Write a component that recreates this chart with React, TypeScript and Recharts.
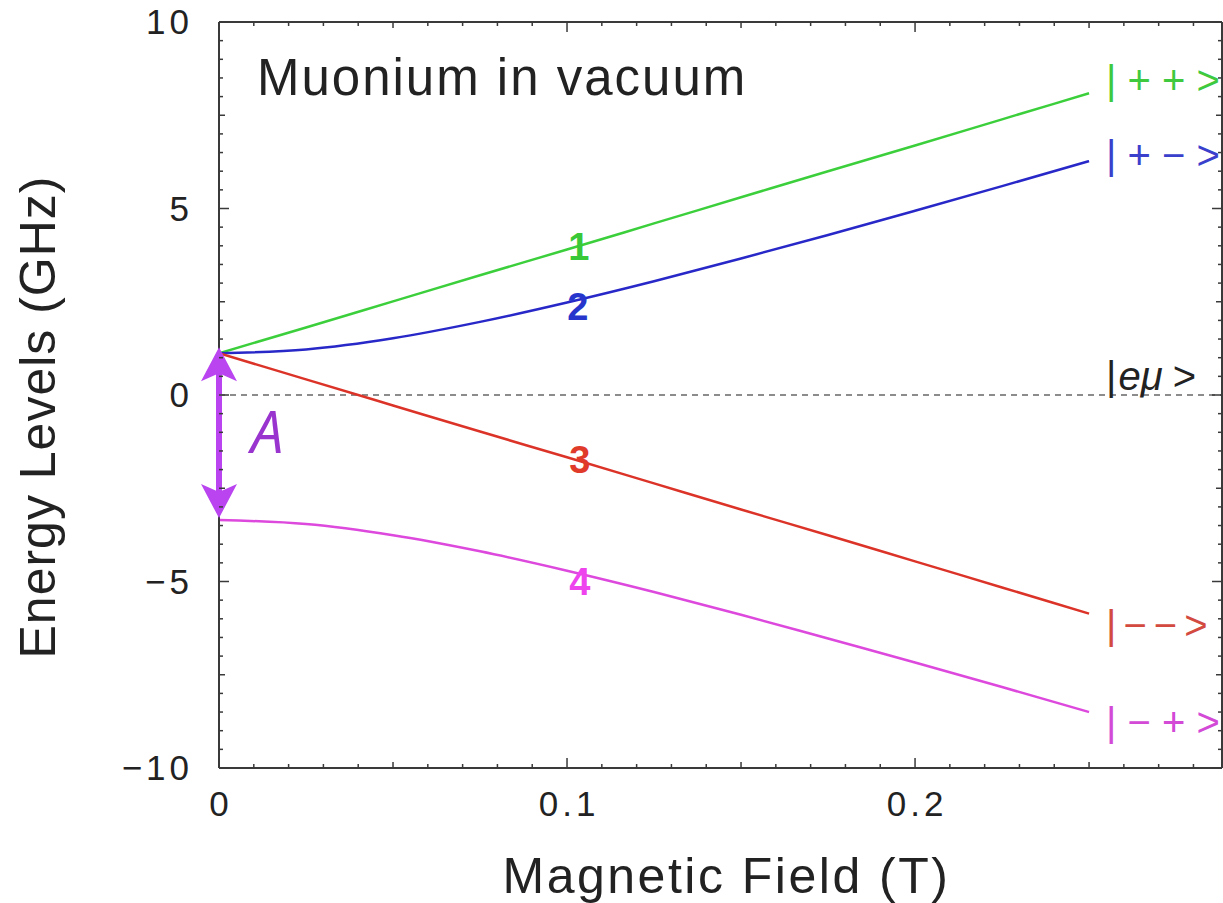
import { LineChart, Line, XAxis, YAxis, ReferenceLine, ReferenceDot } from 'recharts';

// field values (T) and the four hyperfine levels (GHz)
const fieldT = [0, 0.025, 0.05, 0.075, 0.1, 0.125, 0.15, 0.175, 0.2, 0.225, 0.25];
const level1 = [1.12, 1.81, 2.51, 3.21, 3.9, 4.6, 5.3, 6.0, 6.69, 7.39, 8.09];
const level2 = [1.12, 1.22, 1.52, 1.96, 2.48, 3.05, 3.66, 4.29, 4.94, 5.6, 6.27];
const level3 = [1.12, 0.42, -0.28, -0.98, -1.67, -2.37, -3.07, -3.76, -4.46, -5.16, -5.86];
const level4 = [-3.35, -3.46, -3.76, -4.19, -4.71, -5.28, -5.89, -6.53, -7.17, -7.83, -8.5];

const xTicks = Array.from({ length: 29 }, (_, i) => i / 100);
const yTicks = Array.from({ length: 41 }, (_, i) => -10 + i / 2);
const xLabels = ['0', '0.1', '0.2'];
const yLabels = ['−10', '−5', '0', '5', '10'];

const data = fieldT.map((b, i) => ({ b, e1: level1[i], e2: level2[i], e3: level3[i], e4: level4[i] }));

const AXIS = '#3a3a3a';
const FONT = '"Liberation Sans", Arial, sans-serif';

const lenX = (v: number) => {
  const k = Math.round(v * 100);
  return k % 10 === 0 ? 10 : k % 5 === 0 ? 6 : 4;
};
const lenY = (v: number) => {
  const k = Math.round(v * 2);
  return k % 10 === 0 ? 10 : k % 5 === 0 ? 6 : 4;
};

const BottomTick = (p: any) => {
  const v = p.payload.value;
  const k = Math.round(v * 100);
  return (
    <g>
      <line x1={p.x} x2={p.x} y1={p.y} y2={p.y - lenX(v)} stroke={AXIS} strokeWidth={1.5} />
      {k % 10 === 0 && (
        <text x={p.x + 2} y={p.y + 48} textAnchor="middle" fontSize={35} letterSpacing={4} fill="#222" fontFamily={FONT}>
          {xLabels[k / 10]}
        </text>
      )}
    </g>
  );
};

const TopTick = (p: any) => (
  <line x1={p.x} x2={p.x} y1={p.y} y2={p.y + lenX(p.payload.value)} stroke={AXIS} strokeWidth={1.5} />
);

const LeftTick = (p: any) => {
  const v = p.payload.value;
  const k = Math.round(v * 2);
  return (
    <g>
      <line x1={p.x} x2={p.x + lenY(v)} y1={p.y} y2={p.y} stroke={AXIS} strokeWidth={1.5} />
      {k % 10 === 0 && (
        <text x={p.x - 26} y={p.y + 12} textAnchor="end" fontSize={35} letterSpacing={4} fill="#222" fontFamily={FONT}>
          {yLabels[(k + 20) / 10]}
        </text>
      )}
    </g>
  );
};

const RightTick = (p: any) => (
  <line x1={p.x} x2={p.x - lenY(p.payload.value)} y1={p.y} y2={p.y} stroke={AXIS} strokeWidth={1.5} />
);

const Arrow = (p: any) => {
  const { x1, y1, y2 } = p;
  const top = Math.min(y1, y2);
  const bot = Math.max(y1, y2);
  const c = '#b944f0';
  return (
    <g>
      <line x1={x1} x2={x1} y1={top + 20} y2={bot - 20} stroke={c} strokeWidth={6} />
      <polygon points={`${x1},${top} ${x1 + 18},${top + 34} ${x1},${top + 26} ${x1 - 18},${top + 34}`} fill={c} />
      <polygon points={`${x1},${bot} ${x1 + 18},${bot - 34} ${x1},${bot - 26} ${x1 - 18},${bot - 34}`} fill={c} />
    </g>
  );
};

const txt = (content: any, style: any) => (p: any) => (
  <text x={p.cx} y={p.cy} fontFamily={FONT} {...style}>
    {content}
  </text>
);

const kets = [
  { y: 8.07, s: '| + + >', c: '#3fc93f' },
  { y: 6.06, s: '| + − >', c: '#3a3fcc' },
  { y: -6.54, s: '|−−>', c: '#d34a40' },
  { y: -9.14, s: '| − + >', c: '#d24ad6' },
];

export default function App() {
  return (
    <div style={{ position: 'absolute', left: 0, top: 0, width: 1223, height: 903, background: '#fff' }}>
      <LineChart width={1223} height={903} data={data} margin={{ top: 0, right: 0, bottom: 0, left: 0 }}>
        <XAxis
          dataKey="b"
          type="number"
          domain={[0, 0.2882]}
          ticks={xTicks}
          interval={0}
          allowDataOverflow
          height={135}
          tickLine={false}
          tickSize={0}
          tickMargin={0}
          tick={BottomTick}
          axisLine={{ stroke: AXIS, strokeWidth: 2 }}
          label={(p: any) => (
            <text
              x={p.viewBox.x + p.viewBox.width / 2 + 6}
              y={p.viewBox.y + 125}
              textAnchor="middle"
              fontSize={50}
              letterSpacing={2.5}
              fill="#222"
              fontFamily={FONT}
            >
              Magnetic Field (T)
            </text>
          )}
        />
        <XAxis
          xAxisId="top"
          dataKey="b"
          orientation="top"
          type="number"
          domain={[0, 0.2882]}
          ticks={xTicks}
          interval={0}
          allowDataOverflow
          height={22}
          tickLine={false}
          tickSize={0}
          tickMargin={0}
          tick={TopTick}
          axisLine={{ stroke: AXIS, strokeWidth: 2 }}
        />
        <YAxis
          type="number"
          domain={[-10, 10]}
          ticks={yTicks}
          interval={0}
          allowDataOverflow
          width={219}
          tickLine={false}
          tickSize={0}
          tickMargin={0}
          tick={LeftTick}
          axisLine={{ stroke: AXIS, strokeWidth: 2 }}
          label={(p: any) => {
            const cx = 55;
            const cy = p.viewBox.y + p.viewBox.height / 2 + 22;
            return (
              <text
                x={cx}
                y={cy}
                transform={`rotate(-90, ${cx}, ${cy})`}
                textAnchor="middle"
                fontSize={50}
                letterSpacing={1}
                fill="#222"
                fontFamily={FONT}
              >
                Energy Levels (GHz)
              </text>
            );
          }}
        />
        <YAxis
          yAxisId="right"
          orientation="right"
          type="number"
          domain={[-10, 10]}
          ticks={yTicks}
          interval={0}
          allowDataOverflow
          width={1}
          tickLine={false}
          tickSize={0}
          tickMargin={0}
          tick={RightTick}
          axisLine={{ stroke: AXIS, strokeWidth: 2 }}
        />

        <ReferenceLine y={0} stroke="#8c8c8c" strokeWidth={2} strokeDasharray="6 5" />

        <Line dataKey="e1" type="monotone" stroke="#3ccf3c" strokeWidth={2.5} dot={false} isAnimationActive={false} />
        <Line dataKey="e2" type="monotone" stroke="#2828c8" strokeWidth={2.5} dot={false} isAnimationActive={false} />
        <Line dataKey="e3" type="monotone" stroke="#dc3328" strokeWidth={2.5} dot={false} isAnimationActive={false} />
        <Line dataKey="e4" type="monotone" stroke="#dd48dd" strokeWidth={2.5} dot={false} isAnimationActive={false} />

        <ReferenceLine
          segment={[{ x: 0, y: -3.3 }, { x: 0, y: 1.28 }]}
          ifOverflow="visible"
          shape={Arrow}
          zIndex={1200}
        />

        <ReferenceDot
          x={0.0109}
          y={8.04}
          r={0}
          ifOverflow="visible"
          shape={txt('Muonium in vacuum', { fontSize: 51, letterSpacing: 2, fill: '#222' })}
        />
        <ReferenceDot
          x={0.0092}
          y={-1.55}
          r={0}
          ifOverflow="visible"
          shape={txt('A', {
            fontSize: 58,
            fontStyle: 'italic',
            fill: '#9a34cf',
            fontFamily: '"Open Sans", sans-serif',
          })}
        />

        <ReferenceDot x={0.1034} y={3.62} r={0} ifOverflow="visible"
          shape={txt('1', { fontSize: 38, fontWeight: 'bold', fill: '#38c838', textAnchor: 'middle' })} />
        <ReferenceDot x={0.1031} y={2.01} r={0} ifOverflow="visible"
          shape={txt('2', { fontSize: 38, fontWeight: 'bold', fill: '#2636cc', textAnchor: 'middle' })} />
        <ReferenceDot x={0.1037} y={-2.09} r={0} ifOverflow="visible"
          shape={txt('3', { fontSize: 38, fontWeight: 'bold', fill: '#e03a2a', textAnchor: 'middle' })} />
        <ReferenceDot x={0.1037} y={-5.36} r={0} ifOverflow="visible"
          shape={txt('4', { fontSize: 38, fontWeight: 'bold', fill: '#ee44ee', textAnchor: 'middle' })} />

        {kets.map((k) => (
          <ReferenceDot key={k.s} x={0.2549} y={k.y} r={0} ifOverflow="visible"
            shape={txt(k.s, { fontSize: 40, fill: k.c, letterSpacing: k.s.length < 5 ? 7 : 0 })} />
        ))}
        <ReferenceDot
          x={0.2549}
          y={0.13}
          r={0}
          ifOverflow="visible"
          shape={txt(
            [
              <tspan key="a">|</tspan>,
              <tspan key="b" fontStyle="italic" dx={2}>eμ</tspan>,
              <tspan key="c" dx={10}>&gt;</tspan>,
            ],
            { fontSize: 40, fill: '#222' }
          )}
        />
      </LineChart>
    </div>
  );
}
